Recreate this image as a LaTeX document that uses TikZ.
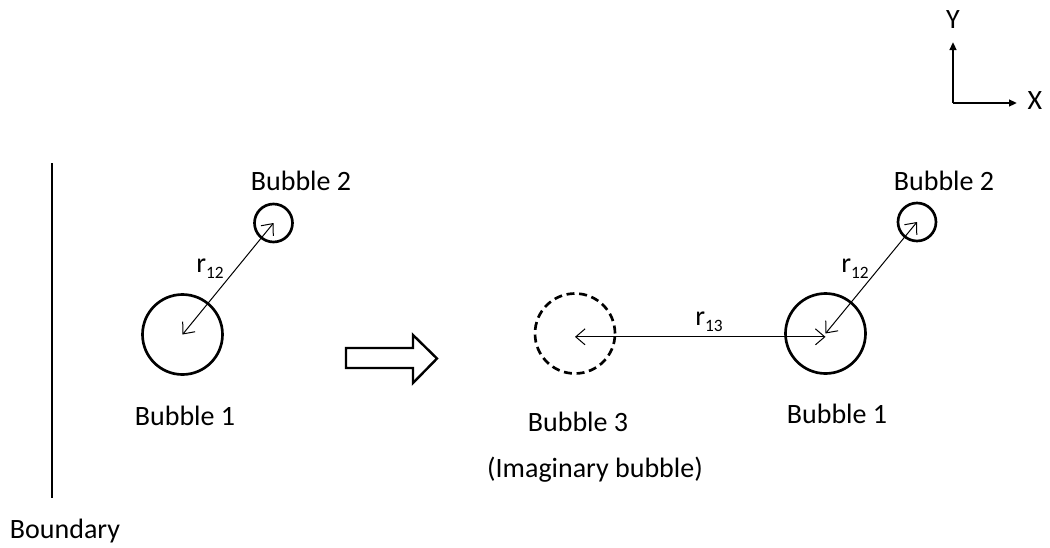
\documentclass[tikz,border=0pt]{standalone}
\usepackage{fontspec}
\setmainfont{Carlito}
\usetikzlibrary{arrows.meta}
\newcommand{\mysub}[1]{\raisebox{-4.5pt}{\fontsize{13}{14}\selectfont #1}}
\begin{document}
\begin{tikzpicture}[x=0.75pt,y=-0.75pt,
  font=\fontsize{21}{25}\selectfont,
  bubble/.style={draw, circle, line width=2pt, inner sep=0pt},
  bigb/.style={bubble, minimum size=60pt},
  smallb/.style={bubble, minimum size=28.5pt},
  imag/.style={bigb, dash pattern=on 6pt off 3.5pt},
  dist/.style={line width=0.75pt, {Straight Barb[length=7pt,width=12pt]}-{Straight Barb[length=7pt,width=12pt]}},
  axis/.style={line width=1.6pt, -{Triangle[length=6pt,width=5pt]}},
  lbl/.style={anchor=base, inner sep=0pt}
]
\useasboundingbox (0,0) rectangle (1050,547);

% boundary
\coordinate (bt) at (52,163);
\coordinate (bb) at (52,498);
\draw[line width=2.2pt] (bt) -- (bb);
\node[lbl] (boundary) at (65,538) {Boundary};

% left configuration
\node[bigb] (b1L) at (182.5,334.5) {};
\node[smallb] (b2L) at (273.5,223) {};
\draw[dist] (b1L.center) -- (b2L.center);
\node[anchor=base west, inner sep=0pt] (r12L) at (196,272) {r\mysub{12}};
\node[lbl] (t1L) at (185,425) {Bubble 1};
\node[lbl] (t2L) at (301,190) {Bubble 2};

% transformation arrow
\draw[line width=1.8pt, line join=miter]
  (346,348) -- (413,348) -- (413,335) -- (437,358.5) -- (413,383) -- (413,368) -- (346,368) -- cycle;

% right configuration
\node[imag] (b3) at (575,333.5) {};
\node[bigb] (b1R) at (825.5,333.5) {};
\node[smallb] (b2R) at (917,222) {};
\draw[dist] (b1R.center) -- (b2R.center);
\draw[dist] ([yshift=-2.5pt]b1R.center) -- ([yshift=-2.5pt]b3.center);
\node[anchor=base west, inner sep=0pt] (r12R) at (841,272) {r\mysub{12}};
\node[anchor=base west, inner sep=0pt] (r13) at (695,325) {r\mysub{13}};
\node[lbl] (t3) at (578,431) {Bubble 3};
\node[lbl] (timag) at (595,477) {(Imaginary bubble)};
\node[lbl] (t1R) at (837,423) {Bubble 1};
\node[lbl] (t2R) at (944,190) {Bubble 2};

% axes
\coordinate (o) at (953,103);
\coordinate (oy) at (953,42);
\coordinate (ox) at (1017,103);
\draw[axis] (o) -- (oy);
\draw[axis] (o) -- (ox);
\node[lbl] (ylab) at (953,28) {Y};
\node[lbl] (xlab) at (1035,109) {X};
\end{tikzpicture}
\end{document}
